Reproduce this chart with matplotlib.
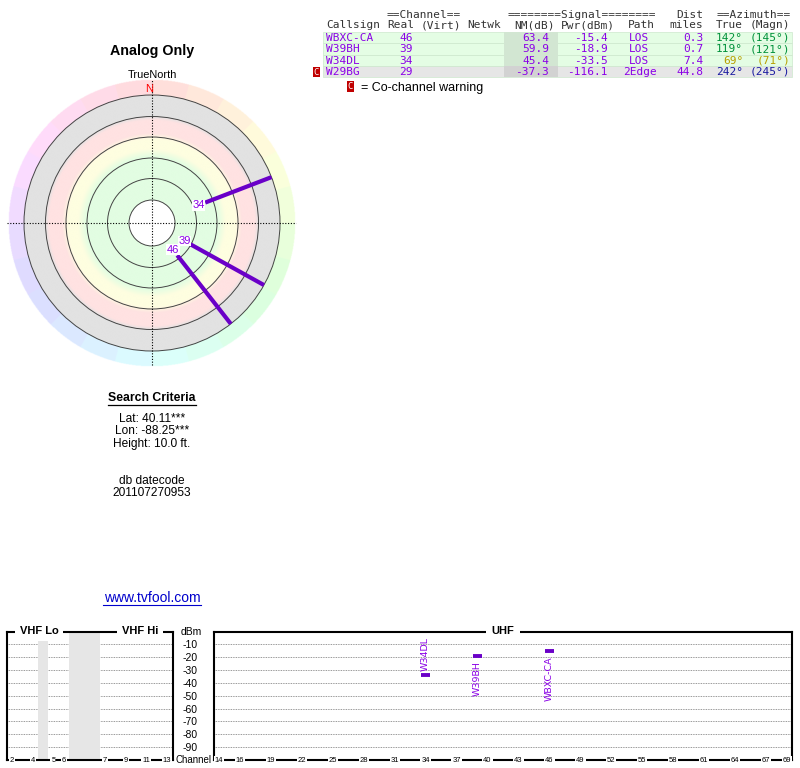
import numpy as np
import matplotlib
matplotlib.use("Agg")
import matplotlib.pyplot as plt
from matplotlib.patches import Rectangle, Circle
from matplotlib.colors import hsv_to_rgb

plt.rcParams['font.family'] = ['Liberation Sans', 'DejaVu Sans']

# station table
callsigns = ['WBXC-CA', 'W39BH', 'W34DL', 'W29BG']
real_ch = [46, 39, 34, 29]
nm_db = [63.4, 59.9, 45.4, -37.3]
pwr_dbm = [-15.4, -18.9, -33.5, -116.1]
paths = ['LOS', 'LOS', 'LOS', '2Edge']
dist_mi = [0.3, 0.7, 7.4, 44.8]
az_true = [142, 119, 69, 242]
az_magn = [145, 121, 71, 245]
cochannel = [False, False, False, True]
az_colors = ['#00913a', '#00913a', '#b8a000', '#1a1aa0']

# spectrum axes
dbm_ticks = [-10, -20, -30, -40, -50, -60, -70, -80, -90]
vhf_label_ch = [2, 4, 5, 6, 7, 9, 11, 13]
vhf_slot = {2: 0, 3: 1, 4: 2, 5: 4, 6: 5, 7: 9, 8: 10, 9: 11, 10: 12, 11: 13, 12: 14, 13: 15}
vhf_gaps = [(2.5, 3.5), (5.5, 8.5)]
uhf_label_ch = [14, 16, 19, 22, 25, 28, 31, 34, 37, 40, 43, 46, 49, 52, 55, 58, 61, 64, 67, 69]
label_side = ['below', 'below', 'above', 'below']

purple_txt = '#8a00e6'
purple_line = '#6a00c8'
mono = 'DejaVu Sans Mono'

W, H = 800, 768
fig = plt.figure(figsize=(8, 7.68), dpi=100)


def px_axes(x0, y0, x1, y1, **kw):
    return fig.add_axes([x0 / W, 1 - y1 / H, (x1 - x0) / W, (y1 - y0) / H], **kw)


# background axes in pixel coordinates for text and the table
ax = px_axes(0, 0, W, H)
ax.set_xlim(0, W)
ax.set_ylim(H, 0)
ax.axis('off')

# ---- station table ----
ax.text(387, 14.5, '==Channel==', family=mono, fontsize=8, color='#333', va='center')
ax.text(508, 14.5, '========Signal========', family=mono, fontsize=8, color='#333', va='center')
ax.text(703, 14.5, 'Dist', family=mono, fontsize=8, color='#333', va='center', ha='right')
ax.text(717, 14.5, '==Azimuth==', family=mono, fontsize=8, color='#333', va='center')
heads = [('Callsign', 326, 'left'), ('Real', 387, 'left'), ('(Virt)', 421, 'left'),
         ('Netwk', 467, 'left'), ('NM(dB)', 555, 'right'), ('Pwr(dBm)', 615, 'right'),
         ('Path', 655, 'right'), ('miles', 703, 'right'), ('True', 743, 'right'),
         ('(Magn)', 790, 'right')]
for t, x, ha in heads:
    ax.text(x, 25.5, t, family=mono, fontsize=8, color='#333', va='center', ha=ha)

row_h = 11.4
for i in range(len(callsigns)):
    top = 31.7 + i * row_h
    yc = top + row_h / 2 + 0.3
    bg = '#e6e6e6' if cochannel[i] else '#e4fde4'
    dark = '#d2d2d2' if cochannel[i] else '#d2e6d2'
    ax.add_patch(Rectangle((323, top), 469, row_h, fc=bg, ec='#cde8cd', lw=0.5))
    ax.add_patch(Rectangle((504, top), 54, row_h, fc=dark, ec='none'))
    kw = dict(family=mono, fontsize=8, color=purple_txt, va='center')
    ax.text(326, yc, callsigns[i], ha='left', **kw)
    ax.text(413, yc, str(real_ch[i]), ha='right', **kw)
    ax.text(549, yc, f'{nm_db[i]:.1f}', ha='right', **kw)
    ax.text(608, yc, f'{pwr_dbm[i]:.1f}', ha='right', **kw)
    ax.text(639.5, yc, paths[i], ha='center', **kw)
    ax.text(703, yc, f'{dist_mi[i]:.1f}', ha='right', **kw)
    kw['color'] = az_colors[i]
    ax.text(743, yc, f'{az_true[i]}°', ha='right', **kw)
    ax.text(790, yc, f'({az_magn[i]}°)', ha='right', **kw)
    if cochannel[i]:
        ax.add_patch(Rectangle((313, top + 1), 7, 10, fc='#c00000', ec='none'))
        ax.text(316.5, yc + 0.3, 'C', family=mono, fontsize=6.5, color='white',
                ha='center', va='center')

ax.add_patch(Rectangle((347, 81), 7, 11, fc='#c00000', ec='none'))
ax.text(350.5, 86.5, 'C', family=mono, fontsize=6.5, color='white', ha='center', va='center')
ax.text(361, 87.5, '= Co-channel warning', fontsize=9, va='center')

# ---- left column texts ----
ax.text(152, 51, 'Analog Only', fontsize=10.3, weight='bold', ha='center', va='center')
ax.text(152, 74.5, 'TrueNorth', fontsize=7.9, ha='center', va='center')
ax.text(152, 398, 'Search Criteria', fontsize=8.8, weight='bold', ha='center', va='center')
ax.plot([108, 196], [404.5, 404.5], color='k', lw=0.9)
for y, t in [(419, 'Lat: 40.11***'), (431.5, 'Lon: -88.25***'), (444, 'Height: 10.0 ft.'),
             (481.5, 'db datecode'), (493.5, '201107270953')]:
    ax.text(152, y, t, fontsize=8.6, ha='center', va='center')
ax.text(152, 598, 'www.tvfool.com', fontsize=10, color='#0000cc', ha='center', va='center')
ax.plot([103, 201], [604.5, 604.5], color='#0000cc', lw=0.8)
ax.text(191.5, 632, 'dBm', fontsize=7.5, ha='center', va='center')
ax.text(194, 760, 'Channel', fontsize=7, ha='center', va='center')

# ---- radar plot ----
cx, cy = 152, 223
axr = px_axes(cx - 145, cy - 145, cx + 145, cy + 145)
n = 600
g = np.linspace(-145, 145, n)
X, Y = np.meshgrid(g, g)
R = np.hypot(X, Y)
AZ = np.degrees(np.arctan2(X, Y)) % 360
knots_r = [23, 66, 74, 84, 90, 103, 107, 128]
knots_c = np.array([[226, 253, 226], [226, 253, 226], [254, 254, 224], [254, 254, 224],
                    [255, 226, 226], [255, 226, 226], [226, 226, 226], [226, 226, 226]]) / 255
img = np.ones((n, n, 3))
for k in range(3):
    img[..., k] = np.interp(R, knots_r, knots_c[:, k])
hue = ((np.floor(AZ / 15) * 15 + 7.5) % 360) / 360
ring = hsv_to_rgb(np.stack([hue, np.full_like(hue, 0.14), np.ones_like(hue)], -1))
mask = (R >= 128) & (R <= 143.5)
img[mask] = ring[mask]
img[R > 143.5] = 1
img[R < 23] = 1
axr.imshow(img, extent=(-145, 145, -145, 145), origin='lower', interpolation='bilinear')
for r in [23, 44.5, 65, 86, 106.5, 128]:
    axr.add_patch(Circle((0, 0), r, fill=False, ec='#444', lw=0.7))
axr.plot([-145, 144], [0, 0], color='k', lw=0.8, ls=(0, (1, 1.5)))
axr.plot([0, 0], [-142, 144], color='k', lw=0.8, ls=(0, (1, 1.5)))
axr.text(-3, 133.5, 'N', color='red', fontsize=8, ha='center', va='center')


def nm_to_r(nm):
    return 97.4 - 0.89 * nm


for i in range(len(callsigns)):
    if nm_db[i] <= 0:
        continue
    th = np.radians(az_true[i])
    r0 = nm_to_r(nm_db[i])
    axr.plot([r0 * np.sin(th), 128 * np.sin(th)], [r0 * np.cos(th), 128 * np.cos(th)],
             color=purple_line, lw=3, solid_capstyle='butt')
    rl = r0 - 7
    axr.text(rl * np.sin(th), rl * np.cos(th), str(real_ch[i]), color=purple_txt, fontsize=8,
             ha='center', va='center',
             bbox=dict(fc='white', ec='none', pad=0.3))
axr.set_xlim(-145, 145)
axr.set_ylim(-145, 145)
axr.axis('off')

# ---- spectrum: VHF ----
axv = px_axes(7, 631.5, 173, 760)
axv.set_xlim(-0.5, 15.6)
axv.set_ylim(-100, 0)
for d in dbm_ticks:
    axv.axhline(d, color='#777', lw=0.6, ls=(0, (1, 1)), zorder=1)
for a, b in vhf_gaps:
    axv.axvspan(a, b, color='#e6e6e6', zorder=2, lw=0)
axv.set_xticks([])
axv.set_yticks([])
for s in axv.spines.values():
    s.set_linewidth(1.5)
for c in vhf_label_ch:
    axv.text(vhf_slot[c], -100, str(c), fontsize=5.5, ha='center', va='center', clip_on=False,
             bbox=dict(fc='white', ec='none', pad=0.6), zorder=5)
axv.text(2.6, 0, 'VHF Lo', fontsize=8, weight='bold', ha='center', va='center', clip_on=False,
         bbox=dict(fc='white', ec='none', pad=3.5), zorder=5)
axv.text(12.4, 0, 'VHF Hi', fontsize=8, weight='bold', ha='center', va='center', clip_on=False,
         bbox=dict(fc='white', ec='none', pad=3.5), zorder=5)

# ---- spectrum: UHF ----
axu = px_axes(214, 631.5, 792, 760)
axu.set_xlim(13.5, 69.5)
axu.set_ylim(-100, 0)
for d in dbm_ticks:
    axu.axhline(d, color='#777', lw=0.6, ls=(0, (1, 1)), zorder=1)
axu.set_xticks([])
axu.set_yticks(dbm_ticks)
axu.set_yticklabels([str(d) for d in dbm_ticks], fontsize=7.5)
axu.tick_params(axis='y', length=0, pad=12)
for s in axu.spines.values():
    s.set_linewidth(1.5)
for c in uhf_label_ch:
    axu.text(c, -100, str(c), fontsize=5.5, ha='center', va='center', clip_on=False,
             bbox=dict(fc='white', ec='none', pad=0.6), zorder=5)
axu.text(41.5, 0, 'UHF', fontsize=8, weight='bold', ha='center', va='center', clip_on=False,
         bbox=dict(fc='white', ec='none', pad=4), zorder=5)

for i in range(len(callsigns)):
    ch, p = real_ch[i], pwr_dbm[i]
    if ch < 14 or p < -100:
        continue
    axu.plot([ch - 0.42, ch + 0.42], [p, p], color=purple_line, lw=2.8, solid_capstyle='butt', zorder=4)
    if label_side[i] == 'above':
        axu.annotate(callsigns[i], (ch, p), xytext=(0, 2.5), textcoords='offset points',
                     rotation=90, ha='center', va='bottom', fontsize=6.8,
                     family='DejaVu Sans', color=purple_txt)
    else:
        axu.annotate(callsigns[i], (ch, p), xytext=(0, -3.5), textcoords='offset points',
                     rotation=90, ha='center', va='top', fontsize=6.8,
                     family='DejaVu Sans', color=purple_txt)

fig.savefig('out.png', dpi=100)
